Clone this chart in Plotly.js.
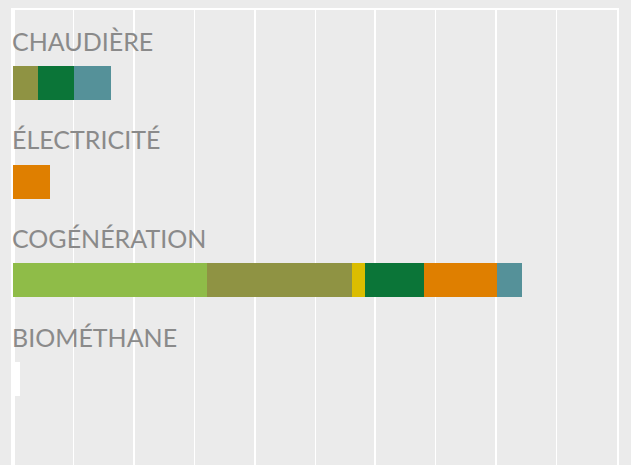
<!DOCTYPE html>
<html>
<head>
<meta charset="utf-8">
<script src="https://cdn.plot.ly/plotly-3.0.1.min.js"></script>
<style>html,body{margin:0;padding:0;background:#ebebeb;}#chart{width:631px;height:465px;}</style>
</head>
<body>
<div id="chart"></div>
<script>
const categories = ["CHAUDIÈRE", "ÉLECTRICITÉ", "COGÉNÉRATION", "BIOMÉTHANE"];
const seriesColors = ["#8fbc48", "#8f9343", "#dbbd00", "#0b7538", "#df7f00", "#559199", "#ffffff"];
const s1 = [0, 0, 3.21, 0];
const s2 = [0.41, 0, 2.41, 0];
const s3 = [0, 0, 0.20, 0];
const s4 = [0.60, 0, 0.99, 0];
const s5 = [0, 0.61, 1.21, 0];
const s6 = [0.61, 0, 0.40, 0];
const s7 = [0, 0, 0, 0.12];
const series = [s1, s2, s3, s4, s5, s6, s7];

const yIdx = categories.map((c, i) => i);
const traces = series.map((vals, k) => ({
  type: 'bar', orientation: 'h',
  x: vals, y: yIdx,
  width: 0.345,
  marker: {color: seriesColors[k], line: {width: 0}},
  hoverinfo: 'skip', showlegend: false
}));

const annotations = categories.map((c, i) => ({
  text: c, xref: 'x', yref: 'y', x: 0, y: i - 0.43,
  xanchor: 'left', yanchor: 'middle', showarrow: false, xshift: -3,
  font: {family: 'Lato', size: 25, color: '#8a8a8a'}
}));

const layout = {
  width: 631, height: 465,
  margin: {l: 13, r: 14, t: 10, b: 0, pad: 0},
  paper_bgcolor: '#ebebeb', plot_bgcolor: '#ebebeb',
  barmode: 'stack', bargap: 0,
  showlegend: false,
  xaxis: {
    range: [0, 10], side: 'top', showticklabels: false, ticks: '',
    dtick: 2, showgrid: true, gridcolor: '#ffffff', gridwidth: 2,
    zeroline: true, zerolinecolor: '#ffffff', zerolinewidth: 3,
    showline: true, linecolor: '#ffffff', linewidth: 2,
    minor: {dtick: 1, showgrid: true, gridcolor: '#ffffff', gridwidth: 1, ticks: ''},
    fixedrange: true
  },
  yaxis: {
    range: [3.87, -0.74], showticklabels: false, ticks: '',
    showgrid: false, zeroline: false, fixedrange: true,
    showline: true, mirror: true, linecolor: '#ffffff', linewidth: 2
  },
  annotations: annotations
};

Plotly.newPlot('chart', traces, layout, {displayModeBar: false, staticPlot: true});
</script>
</body>
</html>
